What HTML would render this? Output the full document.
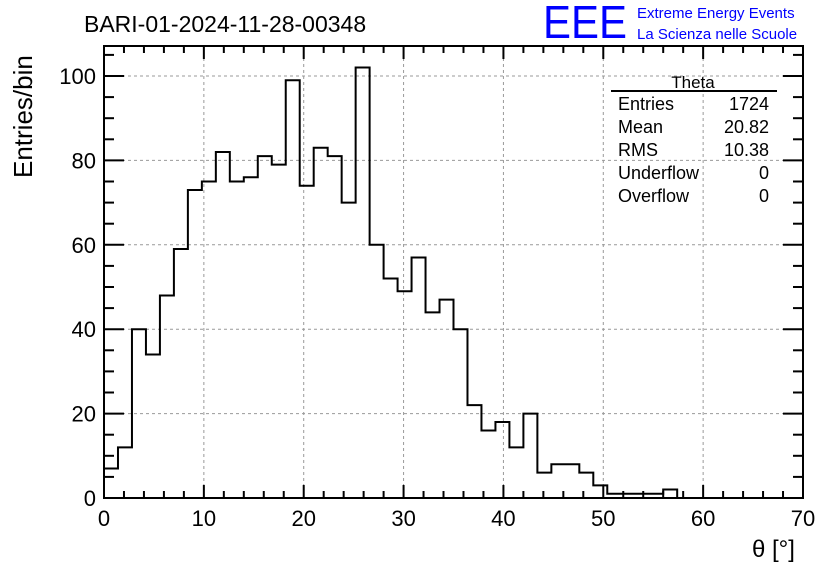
<!DOCTYPE html>
<html><head><meta charset="utf-8"><style>
body{margin:0;background:#fff;}
svg{display:block;font-family:"Liberation Sans",sans-serif;}
</style></head><body>
<svg id="c" width="836" height="572">
<text x="84" y="32" font-size="23">BARI-01-2024-11-28-00348</text>
<text x="543" y="38" font-size="46" fill="#0000ff" textLength="84" lengthAdjust="spacingAndGlyphs">EEE</text>
<text x="637" y="18" font-size="15" fill="#0000ff">Extreme Energy Events</text>
<text x="637" y="39" font-size="15" fill="#0000ff">La Scienza nelle Scuole</text>
<text transform="translate(32,178) rotate(-90)" font-size="26">Entries/bin</text>
<text x="752" y="557" font-size="24">θ [°]</text>
<g id="grid"></g><g id="ticks"></g><g id="hist"></g>
<rect x="104" y="46" width="699" height="452" fill="none" stroke="#000" stroke-width="2"/>
<g font-size="18">
<text x="693" y="88" text-anchor="middle" font-size="17">Theta</text>
<line x1="611" y1="91" x2="777" y2="91" stroke="#000" stroke-width="2"/>
<text x="618" y="110">Entries</text><text x="769" y="110" text-anchor="end">1724</text>
<text x="618" y="133">Mean</text><text x="769" y="133" text-anchor="end">20.82</text>
<text x="618" y="156">RMS</text><text x="769" y="156" text-anchor="end">10.38</text>
<text x="618" y="179">Underflow</text><text x="769" y="179" text-anchor="end">0</text>
<text x="618" y="202">Overflow</text><text x="769" y="202" text-anchor="end">0</text>
</g>
</svg>
<script>
const binWidth = 1.4;
const counts = [7,12,40,34,48,59,73,75,82,75,76,81,79,99,74,83,81,70,102,60,52,49,57,44,47,40,22,16,18,12,20,6,8,8,6,3,1,1,1,1,2,0,0,0,0,0,0,0,0,0];
const xTicks = [0,10,20,30,40,50,60,70];
const yTicks = [0,20,40,60,80,100];
const NS='http://www.w3.org/2000/svg';
const X0=104,X1=803,Y0=498,Y1=46;
const xs=v=>X0+(v/70)*(X1-X0);
const ys=v=>Y0-v*4.22;
function mk(t,a,p){const e=document.createElementNS(NS,t);for(const k in a)e.setAttribute(k,a[k]);p.appendChild(e);return e;}
const grid=document.getElementById('grid'),ticks=document.getElementById('ticks'),hist=document.getElementById('hist');
xTicks.forEach(v=>{
  if(v>0&&v<70){const g=mk('line',{x1:xs(v),x2:xs(v),y1:Y1,y2:Y0,stroke:'#999','stroke-dasharray':'3,3'},grid);
  
  }
  const t=mk('text',{x:xs(v),y:526,'text-anchor':'middle','font-size':22},ticks);t.textContent=v;
  
  
});
yTicks.forEach(v=>{
  if(v>0){const g=mk('line',{x1:X0,x2:X1,y1:ys(v),y2:ys(v),stroke:'#999','stroke-dasharray':'3,3'},grid);
  
  }
  const t=mk('text',{x:96,y:ys(v)+8,'text-anchor':'end','font-size':22},ticks);t.textContent=v;
  
  
});
for(let v=0;v<=70;v+=2){const L=v%10===0?13:7;
  mk('line',{x1:xs(v),x2:xs(v),y1:Y0,y2:Y0-L,stroke:'#000','stroke-width':2},ticks);
  mk('line',{x1:xs(v),x2:xs(v),y1:Y1,y2:Y1+L,stroke:'#000','stroke-width':2},ticks);}
for(let v=0;v*4.22<=452;v+=5){const L=v%20===0?20:10;
  mk('line',{x1:X0,x2:X0+L,y1:ys(v),y2:ys(v),stroke:'#000','stroke-width':2},ticks);
  mk('line',{x1:X1,x2:X1-L,y1:ys(v),y2:ys(v),stroke:'#000','stroke-width':2},ticks);}
let d='M'+xs(0)+','+ys(0);
counts.forEach((c,i)=>{d+=' L'+xs(i*binWidth)+','+ys(c)+' L'+xs((i+1)*binWidth)+','+ys(c);});
const p=mk('path',{d:d,fill:'none',stroke:'#000','stroke-width':2},hist);


</script>
</body></html>
